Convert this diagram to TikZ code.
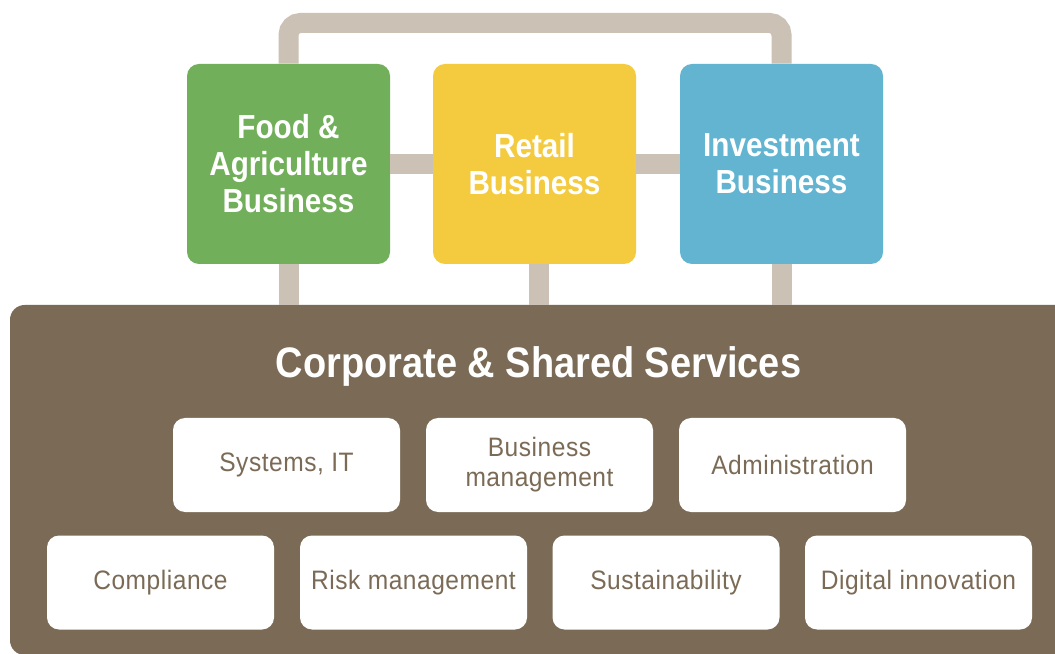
\documentclass[tikz,border=0pt]{standalone}
\usepackage{fontspec}
\setmainfont{Liberation Sans}[FakeStretch=0.89]
\newfontfamily\servicefont{Liberation Sans}[FakeStretch=0.92, LetterSpace=2]
\usepackage{tikz}
\definecolor{foodgreen}{HTML}{72AF5A}
\definecolor{retailyellow}{HTML}{F4CB3E}
\definecolor{investblue}{HTML}{62B4D1}
\definecolor{linkgrey}{HTML}{CBC1B4}
\definecolor{sharedbrown}{HTML}{7B6B56}

\begin{document}
\begin{tikzpicture}[x=0.75pt,y=0.75pt,
  unitbox/.style={rounded corners=9pt, minimum width=152.25pt, minimum height=150pt, inner sep=0pt, align=center, text=white, font=\fontsize{25}{27.75}\selectfont\bfseries},
  servicebox/.style={fill=white, rounded corners=9pt, minimum width=170.25pt, minimum height=70.5pt, inner sep=0pt, align=center, text=sharedbrown, font=\servicefont\fontsize{20}{22.5}\selectfont},
  link/.style={draw=linkgrey, line width=15pt}]
\useasboundingbox[fill=white] (0.000000,0.000000) rectangle (1055.000000,653.000000);
% Drawing business units
\node[unitbox, fill=foodgreen] (food) at (288.500000,489.000000) {Food \&\\Agriculture\\Business};
\node[unitbox, fill=retailyellow] (retail) at (534.500000,489.000000) {Retail\\Business};
\node[unitbox, fill=investblue] (invest) at (781.500000,489.000000) {Investment\\Business};
% Drawing shared services panel
\node[fill=sharedbrown, rounded corners=11pt, minimum width=798.75pt, minimum height=262.5pt, inner sep=0pt] (panel) at (542.500000,173.000000) {};
\node[anchor=base, text=white, font=\fontsize{32}{38}\selectfont\bfseries] (title) at (538.500000,275.000000) {Corporate \& Shared Services};
% Done with boxes; drawing links
\coordinate (looptop) at (534.500000,630.000000);
\coordinate (retaildrop) at ([xshift=3.4pt]retail.south);
% Line 1: food retail invest over the top
\draw[link, rounded corners=9pt] (food.north) -- (food.north |- looptop) -- (invest.north |- looptop) -- (invest.north);
% Line 2: food retail
\draw[link] (food.east) -- (retail.west);
% Line 3: retail invest
\draw[link] (retail.east) -- (invest.west);
% Line 4: units down to panel
\draw[link] (food.south) -- (food.south |- panel.north);
\draw[link] (retaildrop) -- (retaildrop |- panel.north);
\draw[link] (invest.south) -- (invest.south |- panel.north);
% Done with links; drawing services
% Row 1
\node[servicebox] (systems) at (286.500000,188.000000) {Systems, IT};
\node[servicebox] (management) at (539.500000,188.000000) {Business\\management};
\node[servicebox] (admin) at (792.500000,188.000000) {Administration};
% Row 2
\node[servicebox] (compliance) at (160.500000,70.500000) {Compliance};
\node[servicebox] (risk) at (413.500000,70.500000) {Risk management};
\node[servicebox] (sustain) at (666.000000,70.500000) {Sustainability};
\node[servicebox] (digital) at (918.500000,70.500000) {Digital innovation};
% Done with services
\end{tikzpicture}
\end{document}
